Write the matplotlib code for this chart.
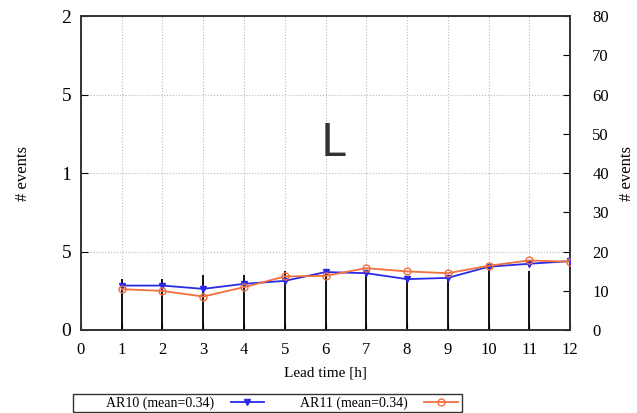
import matplotlib
matplotlib.use('Agg')
import matplotlib.pyplot as plt
from matplotlib.patches import Rectangle

# lead times and values
lead = [1, 2, 3, 4, 5, 6, 7, 8, 9, 10, 11, 12]
ar10 = [0.283, 0.283, 0.262, 0.294, 0.313, 0.369, 0.362, 0.324, 0.332, 0.403, 0.422, 0.439]
ar11 = [0.260, 0.249, 0.213, 0.273, 0.341, 0.345, 0.394, 0.373, 0.362, 0.409, 0.443, 0.435]
n_events = [13.0, 13.0, 14.1, 14.1, 15.1, 14.5, 14.7, 13.2, 13.6, 16.4, 15.0, 17.0]

left_ticks = [0, 0.5, 1, 1.5, 2]
left_labels = ['0', '5', '1', '5', '2']
right_ticks = [0, 10, 20, 30, 40, 50, 60, 70, 80]
x_ticks = list(range(0, 13))

plt.rcParams['font.family'] = ['Liberation Serif', 'DejaVu Serif']
plt.rcParams['font.size'] = 11

fig = plt.figure(figsize=(6.37, 4.13), dpi=100)
ax = fig.add_axes([0.127, 0.201, 0.768, 0.760])
ax2 = ax.twinx()

ax.grid(True, color='#bbbbbb', ls=':', lw=0.8)

# impulses on the right axis
ax2.vlines(lead, 0, n_events, color='black', lw=1.3, zorder=1)

# series lines drawn above the impulses but in the left axis units
ax2.plot(lead, ar10, transform=ax.transData, color='#2a2ae6', lw=1.3,
         marker='v', ms=5, mfc='#2a2ae6', mec='#2a2ae6',
         label='AR10 (mean=0.34)', zorder=3)
ax2.plot(lead, ar11, transform=ax.transData, color='#f07040', lw=1.3,
         marker='o', ms=5, mfc='none', mec='#f07040',
         label='AR11 (mean=0.34)', zorder=3)

ax.set_xlim(0, 12)
ax.set_ylim(0, 2)
ax2.set_ylim(0, 80)
ax.set_xticks(x_ticks)
ax.set_yticks(left_ticks)
ax.set_yticklabels(left_labels)
ax2.set_yticks(right_ticks)
ax2.tick_params(axis='y', direction='in', length=5, labelsize=12, pad=16)
ax.tick_params(axis='both', direction='in', length=5, labelsize=12)
ax.tick_params(axis='y', pad=7, labelsize=14)
ax.tick_params(axis='x', pad=9)

ax.set_xlabel('Lead time [h]', fontsize=11, labelpad=6)
ax.set_ylabel('# events', fontsize=12, labelpad=22)
ax2.set_ylabel('# events', fontsize=12, labelpad=7)

for a in (ax, ax2):
    for s in a.spines.values():
        s.set_color('#333333')
        s.set_linewidth(1.2)

fig.text(0.523, 0.652, 'L', fontsize=32, color='#333333', family='DejaVu Sans',
         ha='center', va='center')

leg = ax2.legend(loc='center left', bbox_to_anchor=(0.166, 0.024), ncol=2,
                 bbox_transform=fig.transFigure,
                 markerfirst=False, frameon=False,
                 fontsize=10, handlelength=2.4, columnspacing=2.6,
                 borderpad=0, handletextpad=1.2, borderaxespad=0)
# box round the key, like the gnuplot one
fig.patches.append(Rectangle((0.1146, 0.0024), 0.6107, 0.0436,
                             transform=fig.transFigure, fill=False,
                             edgecolor='#333333', lw=1.0))

fig.savefig('out.png', dpi=100)
